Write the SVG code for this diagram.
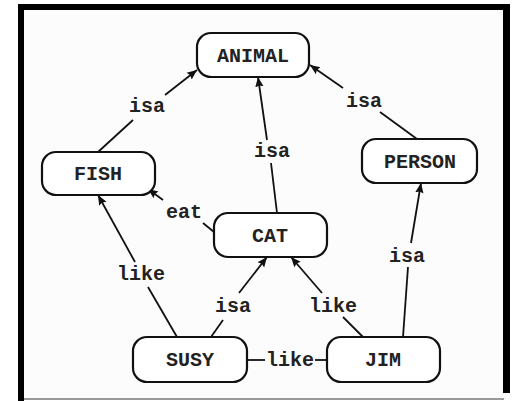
<svg xmlns="http://www.w3.org/2000/svg" width="512" height="401" viewBox="0 0 512 401">
<style>
.node rect{fill:#fff;stroke:#111;stroke-width:2.2}
.node text,.lbl{font-family:"Liberation Mono","Courier New",monospace;font-weight:bold;font-size:20px;fill:#222;text-anchor:middle}
.edges line{stroke:#111;stroke-width:1.8;fill:none}
</style>
<defs>
<marker id="ah" markerUnits="userSpaceOnUse" markerWidth="12" markerHeight="10" refX="10" refY="5" orient="auto">
<path d="M0,0.8 L10,5 L0,9.2 L1.5,5 Z" fill="#111"/>
</marker>
</defs>
<rect x="0" y="0" width="512" height="401" fill="#fff"/>
<rect x="24" y="10" width="479" height="389" fill="#fcfcfc"/>
<g id="frame" fill="#000">
<rect x="18" y="4" width="492" height="6"/>
<rect x="18" y="4" width="6" height="397"/>
<rect x="503" y="4" width="7" height="389"/>
<rect x="24" y="398" width="480" height="2" fill="#999"/>
</g>
<g class="edges">
<line x1="98" y1="152" x2="133" y2="120"/>
<line x1="165" y1="95" x2="197" y2="70" marker-end="url(#ah)"/>
<line x1="277" y1="213" x2="271" y2="163"/>
<line x1="267" y1="140" x2="258" y2="77" marker-end="url(#ah)"/>
<line x1="417" y1="139" x2="380" y2="112"/>
<line x1="343" y1="88" x2="310" y2="65" marker-end="url(#ah)"/>
<line x1="214" y1="232" x2="203" y2="223"/>
<line x1="163" y1="200" x2="148" y2="189" marker-end="url(#ah)"/>
<line x1="177" y1="337" x2="148" y2="287"/>
<line x1="135" y1="262" x2="98" y2="195" marker-end="url(#ah)"/>
<line x1="211" y1="337" x2="223" y2="320"/>
<line x1="239" y1="293" x2="267" y2="257" marker-end="url(#ah)"/>
<line x1="363" y1="337" x2="343" y2="317"/>
<line x1="322" y1="293" x2="291" y2="257" marker-end="url(#ah)"/>
<line x1="403" y1="337" x2="408" y2="267"/>
<line x1="411" y1="243" x2="421" y2="183" marker-end="url(#ah)"/>
<line x1="247" y1="360" x2="265" y2="360"/>
<line x1="315" y1="360" x2="327" y2="360"/>
</g>
<g id="labels">
<text class="lbl" x="147" y="112">isa</text>
<text class="lbl" x="272" y="157">isa</text>
<text class="lbl" x="364" y="107">isa</text>
<text class="lbl" x="184" y="218">eat</text>
<text class="lbl" x="141" y="280">like</text>
<text class="lbl" x="233" y="312">isa</text>
<text class="lbl" x="333" y="312">like</text>
<text class="lbl" x="407" y="262">isa</text>
<text class="lbl" x="290" y="366">like</text>
</g>
<g id="ANIMAL" class="node"><rect x="197" y="33" width="112" height="44" rx="14"/><text x="253" y="62">ANIMAL</text></g>
<g id="FISH" class="node"><rect x="42" y="152" width="113" height="43" rx="14"/><text x="98" y="180">FISH</text></g>
<g id="PERSON" class="node"><rect x="362" y="139" width="115" height="44" rx="14"/><text x="420" y="168">PERSON</text></g>
<g id="CAT" class="node"><rect x="214" y="213" width="113" height="44" rx="14"/><text x="270" y="242">CAT</text></g>
<g id="SUSY" class="node"><rect x="133" y="337" width="114" height="45" rx="14"/><text x="190" y="366">SUSY</text></g>
<g id="JIM" class="node"><rect x="327" y="337" width="113" height="45" rx="14"/><text x="383" y="366">JIM</text></g>
</svg>
